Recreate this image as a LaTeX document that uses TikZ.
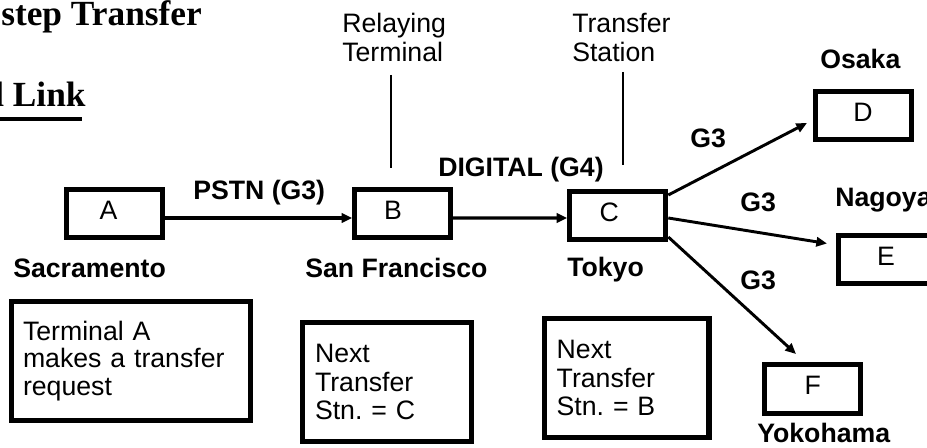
\documentclass[tikz,border=0pt]{standalone}
\usepackage{fontspec}
\setmainfont{Liberation Sans}
\newfontfamily\titlefont{Liberation Serif}
\usetikzlibrary{arrows.meta}
\frenchspacing
\begin{document}
\begin{tikzpicture}[x=0.75pt,y=-0.75pt,
  lbl/.style={inner sep=0pt, anchor=base west, font=\fontsize{20}{21.75}\selectfont},
  blbl/.style={inner sep=0pt, anchor=base west, font=\fontsize{20}{21.75}\selectfont\bfseries},
  smallbox/.style={draw, line width=3.75pt, minimum width=72pt, minimum height=36pt,
    inner sep=0pt, text height=9pt, text depth=0pt, font=\fontsize{20}{24}\selectfont},
  notebox/.style={draw, line width=4.1pt, inner sep=0pt, align=left},
  arr/.style={line width=2.4pt, -{Triangle[length=8pt,width=7pt]}},
  darr/.style={line width=2.2pt, -{Triangle[length=8pt,width=7pt]}},
  lead/.style={line width=1.6pt},
  ttl/.style={inner sep=0pt, anchor=base west, font=\titlefont\fontsize{26.5}{30}\selectfont\bfseries}
]
\useasboundingbox (0,0) rectangle (927,448);
\clip (0,0) rectangle (927,448);

% title (cut at the left edge)
\node[ttl] (t1) at (1,26) {step Transfer};
\node[ttl] (t2) at (-6,107) {l Link};
\draw[line width=3pt] (-10,118.7) -- (82,118.7);

% terminals
\node[smallbox] (A) at (114.5,213.7) {A\hspace*{9pt}};
\node[smallbox] (B) at (402.7,213.7) {B\hspace*{14.5pt}};
\node[smallbox] (C) at (617.8,215.5) {C\hspace*{13pt}};
\node[smallbox] (D) at (863,115.5) {D};
\node[smallbox] (E) at (886,259.5) {E};
\node[smallbox] (F) at (812.7,389) {F};

% connectors
\draw[arr] ([shift={(0,4.3)}]A.east) -- ([shift={(0,4.3)}]B.west);
\draw[arr] ([shift={(0,4.3)}]B.east) -- ([shift={(0,2.5)}]C.west);
\draw[darr] ([shift={(0,-20.5)}]C.east) -- ([shift={(-5.5,7.5)}]D.west);
\draw[darr] ([shift={(0,2.5)}]C.east) -- ([shift={(-8.5,-16)}]E.west);
\draw[darr] ([shift={(0,21.5)}]C.east) -- ([shift={(-16.7,-8.5)}]F.north);

% link labels
\node[blbl] (pstn) at (193,200) {PSTN (G3)};
\node[blbl] (dig) at (438,177) {DIGITAL (G4)};
\node[blbl] (g3a) at (690,148) {G3};
\node[blbl] (g3b) at (740,212) {G3};
\node[blbl] (g3c) at (740,290) {G3};

% city labels
\node[blbl] (sac) at (13,278) {Sacramento};
\node[blbl] (sf) at (305,278) {San Francisco};
\node[blbl] (tok) at (567,277) {Tokyo};
\node[blbl] (osa) at (820,69) {Osaka};
\node[blbl] (nag) at (835,207) {Nagoya};
\node[blbl] (yok) at (757,442) {Yokohama};

% callouts
\node[lbl] (relay) at (342,33) {\begin{tabular}[t]{@{}l@{}}Relaying\\Terminal\end{tabular}};
\node[lbl] (stat) at (572,33) {\begin{tabular}[t]{@{}l@{}}Transfer\\Station\end{tabular}};
\coordinate (relayTop) at (390.7,75);
\coordinate (relayBot) at (390.7,168);
\coordinate (statTop) at (622.7,72);
\coordinate (statBot) at (622.7,165);
\draw[lead] (relayTop) -- (relayBot);
\draw[lead] (statTop) -- (statBot);

% note boxes
\node[notebox, text width=162pt, minimum width=178.9pt, minimum height=88.9pt,
  font=\fontsize{20}{20.6}\selectfont] (n1) at (131,361)
  {Terminal A\\makes a transfer\\request};
\node[notebox, text width=108pt, minimum width=126.4pt, minimum height=89.6pt,
  font=\fontsize{20}{21.4}\selectfont] (n2) at (387,382)
  {Next\\Transfer\\Stn. = C};
\node[notebox, text width=105pt, minimum width=123.4pt, minimum height=89.6pt,
  font=\fontsize{20}{21.4}\selectfont] (n3) at (626.7,378)
  {Next\\Transfer\\Stn. = B};
\end{tikzpicture}
\end{document}
